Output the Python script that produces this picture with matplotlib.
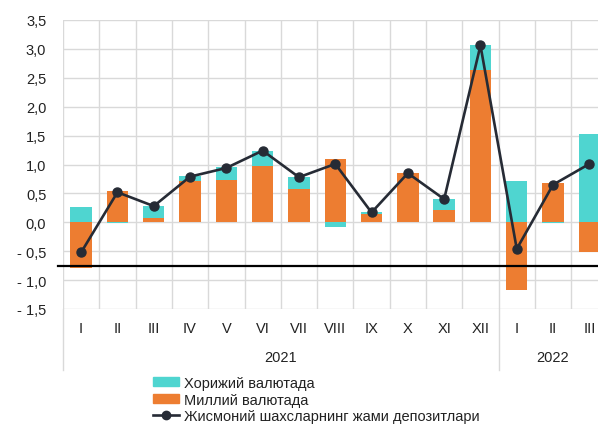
import matplotlib
matplotlib.use("Agg")
import matplotlib.pyplot as plt
import numpy as np
from matplotlib.lines import Line2D
from matplotlib.patches import Patch

plt.rcParams['font.family'] = ['Liberation Sans', 'DejaVu Sans']

# Monthly change of household deposits, trln. sum
months = ['I', 'II', 'III', 'IV', 'V', 'VI', 'VII', 'VIII', 'IX', 'X', 'XI', 'XII',
          'I', 'II', 'III']
years = ['2021', '2022']
year_sizes = [12, 3]
national = [-0.79, 0.55, 0.07, 0.71, 0.74, 0.97, 0.57, 1.09, 0.14, 0.86, 0.21, 2.63,
            -1.17, 0.68, -0.51]
foreign = [0.27, -0.02, 0.21, 0.09, 0.21, 0.26, 0.22, -0.08, 0.03, 0.0, 0.19, 0.43,
           0.72, -0.02, 1.52]
total = [-0.52, 0.52, 0.28, 0.79, 0.94, 1.24, 0.78, 1.01, 0.17, 0.85, 0.40, 3.06,
         -0.46, 0.65, 1.01]

c_foreign = '#4fd5d0'
c_national = '#ed7d31'
c_line = '#262b35'
c_grid = '#d9d9d9'
c_text = '#222222'
fs = 10.5

W, H = 598, 427
fig = plt.figure(figsize=(W / 100, H / 100), dpi=100)
left, right, top, bottom = 63, 607.5, 21, 310
ax = fig.add_axes([left / W, 1 - bottom / H, (right - left) / W, (bottom - top) / H])

x = np.arange(len(months))
nat = np.array(national)
frn = np.array(foreign)
frn_bottom = np.where(frn >= 0, np.maximum(nat, 0), np.minimum(nat, 0))

ax.bar(x, nat, width=0.59, color=c_national, zorder=2)
ax.bar(x, frn, width=0.59, bottom=frn_bottom, color=c_foreign, zorder=2)
ax.plot(x, total, color=c_line, lw=1.9, marker='o', ms=6.5, zorder=4)

# thick reference line across the plot
ax.plot([-0.64, 14.5], [-0.75, -0.75], color='black', lw=1.6, zorder=5, clip_on=False)

ax.set_xlim(-0.5, 14.5)
ax.set_ylim(-1.5, 3.5)
ax.set_yticks(np.arange(-1.5, 3.51, 0.5))


def fmt(v):
    s = f"{abs(v):.1f}".replace('.', ',')
    return ('- ' + s) if v < -1e-9 else s


ax.set_yticklabels([fmt(v) for v in ax.get_yticks()], fontsize=fs, color=c_text)
ax.tick_params(axis='y', length=0, pad=12)
ax.set_xticks(np.arange(-0.5, 15, 1.0))
ax.set_xticklabels([])
ax.tick_params(axis='x', length=0)
ax.grid(True, color=c_grid, lw=1.0, zorder=0)
ax.set_axisbelow(True)
for s in ax.spines.values():
    s.set_visible(False)

# month and year labels under the plot
trans = ax.get_xaxis_transform()
ph = bottom - top
for i, m in enumerate(months):
    ax.text(i, -19 / ph, m, transform=trans, ha='center', va='center',
            fontsize=fs, color=c_text)
start = 0
for yr, n in zip(years, year_sizes):
    ax.text(start + (n - 1) / 2, -48 / ph, yr, transform=trans, ha='center',
            va='center', fontsize=fs, color=c_text)
    ax.plot([start - 0.5, start - 0.5], [0, -61 / ph], transform=trans,
            color=c_grid, lw=1.0, clip_on=False)
    start += n

handles = [Patch(color=c_foreign), Patch(color=c_national),
           Line2D([], [], color=c_line, lw=1.9, marker='o', ms=6)]
labels = ['Хорижий валютада', 'Миллий валютада', 'Жисмоний шахсларнинг жами депозитлари']
fig.legend(handles, labels, loc='upper left', bbox_to_anchor=(153 / W, 1 - 377 / H),
           frameon=False, fontsize=fs, handlelength=1.75, handleheight=0.6,
           handletextpad=0.4, labelspacing=0.18, borderpad=0, borderaxespad=0,
           labelcolor=c_text)

fig.savefig('out.png', dpi=100)
